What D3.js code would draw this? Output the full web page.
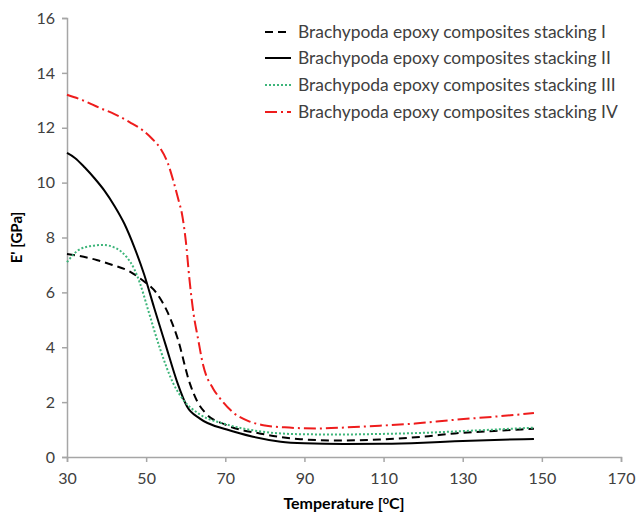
<!DOCTYPE html>
<html>
<head>
<meta charset="utf-8">
<script src="https://cdn.jsdelivr.net/npm/d3@7"></script>
<style>
  html, body { margin: 0; padding: 0; background: #fff; }
  svg { display: block; font-family: Lato, "Open Sans", sans-serif; }
</style>
</head>
<body>
<svg id="chart" width="637" height="513"></svg>
<script>
// Storage modulus E' vs temperature for four stacking sequences
const seriesNames = [
  "Brachypoda epoxy composites stacking I",
  "Brachypoda epoxy composites stacking II",
  "Brachypoda epoxy composites stacking III",
  "Brachypoda epoxy composites stacking IV"
];

const tempI = [30, 33, 37.5, 41.5, 46, 49, 52.5, 55.5, 58, 61, 63, 65, 70, 79, 89, 99, 109, 120, 128, 138, 148];
const modI  = [7.4, 7.33, 7.18, 7.0, 6.75, 6.45, 6.0, 5.25, 4.3, 2.7, 2.0, 1.6, 1.18, 0.85, 0.65, 0.6, 0.64, 0.74, 0.86, 0.95, 1.03];

const tempII = [30, 32, 34.5, 37, 39.5, 42, 44.5, 47, 49.5, 52, 55, 57.8, 60.3, 63.6, 70.4, 77, 84, 90, 100, 110, 120, 128, 138, 148];
const modII  = [11.08, 10.9, 10.55, 10.15, 9.7, 9.15, 8.5, 7.65, 6.65, 5.45, 4.05, 2.75, 1.85, 1.4, 1.0, 0.74, 0.56, 0.5, 0.47, 0.48, 0.52, 0.57, 0.62, 0.66];

const tempIII = [30, 33, 36.5, 39, 42.5, 45, 47, 48.4, 50.5, 53.5, 56.8, 59.3, 63.6, 70, 79, 89, 99, 109, 120, 128, 138, 148];
const modIII  = [7.1, 7.55, 7.7, 7.73, 7.6, 7.3, 6.85, 6.35, 5.36, 3.95, 2.7, 2.1, 1.55, 1.2, 0.93, 0.83, 0.82, 0.84, 0.88, 0.93, 1.0, 1.07];

const tempIV = [30, 34, 38.3, 42, 45.9, 49.2, 51.5, 53.5, 55.5, 57, 58.3, 59, 60, 61, 62, 63, 64.4, 66.9, 68.6, 72, 76, 80, 85, 93, 101, 109, 118, 127.5, 138, 148];
const modIV  = [13.2, 13.0, 12.72, 12.5, 12.2, 11.9, 11.6, 11.27, 10.7, 10.0, 9.3, 8.9, 7.9, 6.4, 5.2, 4.4, 3.35, 2.5, 2.15, 1.62, 1.3, 1.15, 1.08, 1.04, 1.08, 1.14, 1.22, 1.35, 1.47, 1.6];

const xTicks = [30, 50, 70, 90, 110, 130, 150, 170];
const yTicks = [0, 2, 4, 6, 8, 10, 12, 14, 16];

const series = [
  { name: seriesNames[0], t: tempI,   e: modI,   color: "#000000", dash: "8,5" },
  { name: seriesNames[1], t: tempII,  e: modII,  color: "#000000", dash: null },
  { name: seriesNames[2], t: tempIII, e: modIII, color: "#3db57a", dash: "2,2" },
  { name: seriesNames[3], t: tempIV,  e: modIV,  color: "#ee1c1c", dash: "12,4,2,4" }
];

const svg = d3.select("#chart");
const margin = { left: 67, right: 16, top: 18, bottom: 56 };
const W = 637, H = 513;

const x = d3.scaleLinear().domain([30, 170]).range([margin.left, W - margin.right]);
const y = d3.scaleLinear().domain([0, 16]).range([H - margin.bottom, margin.top]);

const axisColor = "#a6a6a6";
const labelColor = "#404040";

// y axis
const yAxis = svg.append("g")
  .attr("transform", `translate(${x(30)},0)`)
  .call(d3.axisLeft(y).tickValues(yTicks).tickSize(5).tickPadding(7));
// x axis
const xAxis = svg.append("g")
  .attr("transform", `translate(0,${y(0)})`)
  .call(d3.axisBottom(x).tickValues(xTicks).tickSize(5).tickPadding(11));

[yAxis, xAxis].forEach(a => {
  a.selectAll("path.domain").attr("stroke", axisColor).attr("stroke-width", 1.5);
  a.selectAll(".tick line").attr("stroke", axisColor).attr("stroke-width", 1.5);
  a.selectAll(".tick text")
    .attr("fill", labelColor)
    .style("font-family", "Lato, sans-serif")
    .style("font-size", "16px");
});

// curves
const line = d3.line()
  .x(d => x(d[0]))
  .y(d => y(d[1]))
  .curve(d3.curveMonotoneX);

series.forEach(s => {
  const pts = s.t.map((t, i) => [t, s.e[i]]);
  svg.append("path")
    .datum(pts)
    .attr("fill", "none")
    .attr("stroke", s.color)
    .attr("stroke-width", 2)
    .attr("stroke-dasharray", s.dash)
    .attr("d", line);
});

// legend
const legend = svg.append("g");
const legendY = [32, 58, 85, 112];
series.forEach((s, i) => {
  legend.append("line")
    .attr("x1", 265).attr("x2", 291)
    .attr("y1", legendY[i]).attr("y2", legendY[i])
    .attr("stroke", s.color)
    .attr("stroke-width", 2)
    .attr("stroke-dasharray", s.dash);
  legend.append("text")
    .attr("x", 298).attr("y", legendY[i])
    .attr("dy", "0.35em")
    .attr("fill", labelColor)
    .style("font-size", "17.4px")
    .text(s.name);
});

// axis titles
svg.append("text")
  .attr("transform", `translate(22,${(y(0) + y(16)) / 2}) rotate(-90)`)
  .attr("text-anchor", "middle")
  .attr("font-weight", "bold")
  .attr("fill", "#000")
  .style("font-size", "15px")
  .text("E' [GPa]");

const xt = svg.append("text")
  .attr("x", (x(30) + x(170)) / 2)
  .attr("y", 509)
  .attr("text-anchor", "middle")
  .attr("font-weight", "bold")
  .attr("fill", "#000")
  .style("font-size", "16px");
xt.append("tspan").text("Temperature [");
xt.append("tspan").attr("dy", -5).style("font-size", "11px").text("o");
xt.append("tspan").attr("dy", 5).text("C]");
</script>
</body>
</html>
